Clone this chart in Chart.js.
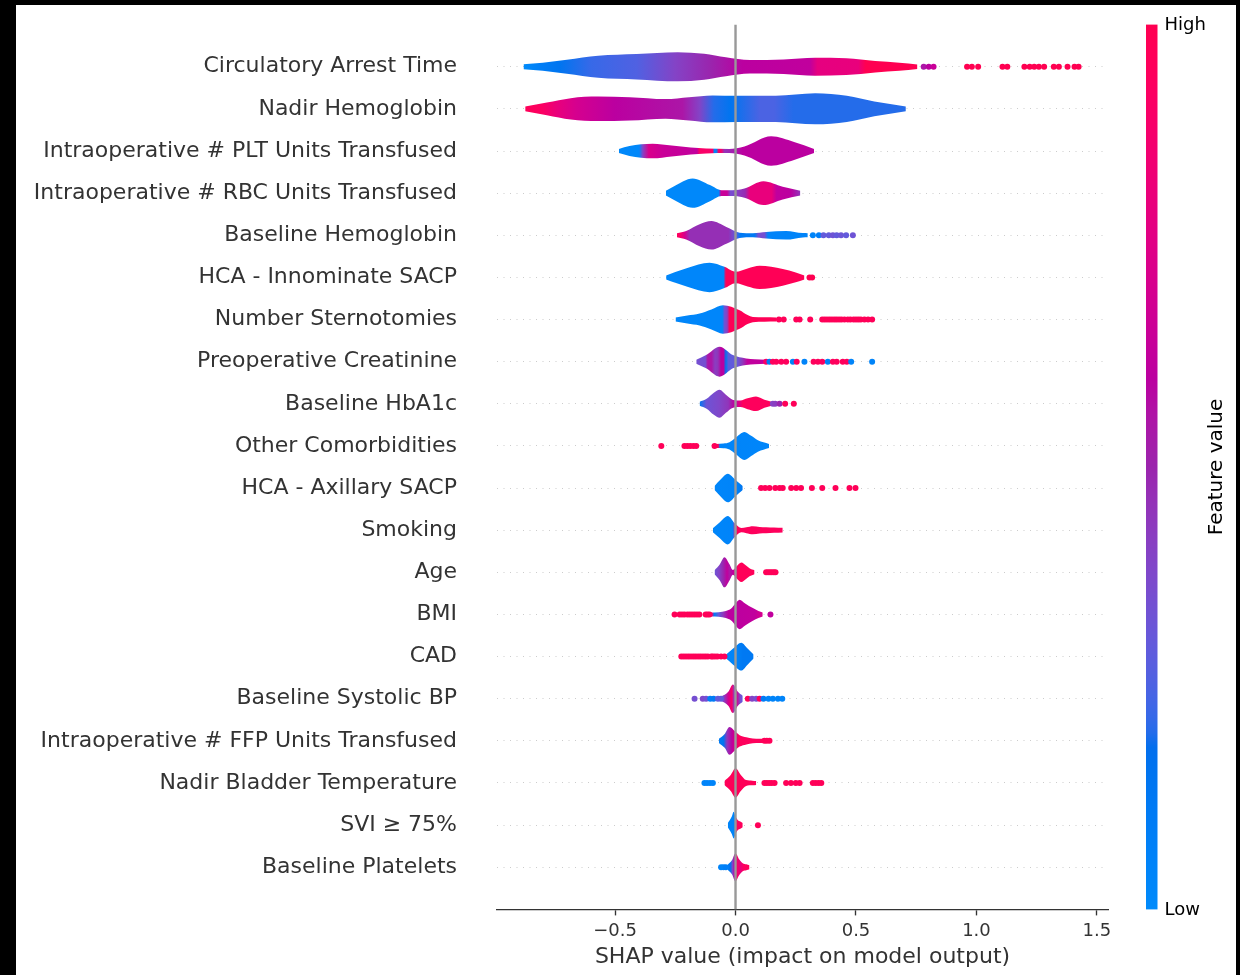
<!DOCTYPE html>
<html lang="en">
<head>
<meta charset="UTF-8">
<title>SHAP violin summary</title>
<script src="https://cdn.jsdelivr.net/npm/chart.js"></script>
<style>
  html, body { margin: 0; padding: 0; background: #000; }
  #frame { position: absolute; left: 16px; top: 5px; width: 1220px; height: 970px; background: #fff; }
</style>
</head>
<body>
<div id="frame"><canvas id="shap"></canvas></div>
<script>
// features, top to bottom
const features = [
  'Circulatory Arrest Time', 'Nadir Hemoglobin', 'Intraoperative # PLT Units Transfused',
  'Intraoperative # RBC Units Transfused', 'Baseline Hemoglobin', 'HCA - Innominate SACP',
  'Number Sternotomies', 'Preoperative Creatinine', 'Baseline HbA1c', 'Other Comorbidities',
  'HCA - Axillary SACP', 'Smoking', 'Age', 'BMI', 'CAD', 'Baseline Systolic BP',
  'Intraoperative # FFP Units Transfused', 'Nadir Bladder Temperature', 'SVI \u2265 75%', 'Baseline Platelets'
];

const xTicks = [-0.5, 0, 0.5, 1.0, 1.5];

// violin outline: SHAP positions and relative density (1 = widest)
const violinX = [
  [-0.88, -0.8, -0.7, -0.57, -0.41, -0.24, -0.13, -0.04, 0.06, 0.2, 0.33, 0.46, 0.58, 0.68, 0.755],
  [-0.873, -0.783, -0.684, -0.57, -0.439, -0.291, -0.193, -0.095, 0.003, 0.167, 0.331, 0.462, 0.576, 0.707],
  [-0.484, -0.44, -0.344, -0.265, -0.186, -0.122, -0.027, 0.037, 0.148, 0.243, 0.326],
  [-0.289, -0.255, -0.178, -0.106, -0.058, -0.011, 0.037, 0.116, 0.196, 0.269],
  [-0.243, -0.205, -0.149, -0.1, -0.038, 0.017, 0.072, 0.127, 0.21, 0.279, 0.3],
  [-0.288, -0.25, -0.2, -0.108, -0.046, 0.0, 0.05, 0.1, 0.196, 0.25, 0.286],
  [-0.249, -0.2, -0.149, -0.1, -0.052, 0.017, 0.05, 0.072, 0.12, 0.169],
  [-0.163, -0.122, -0.066, -0.011, 0.044, 0.08, 0.127],
  [-0.149, -0.12, -0.09, -0.066, -0.04, -0.01, 0.02, 0.05, 0.085, 0.12, 0.15],
  [-0.08, -0.05, -0.025, 0.0, 0.037, 0.065, 0.093, 0.139],
  [-0.087, -0.06, -0.032, 0.0, 0.03],
  [-0.094, -0.065, -0.032, -0.002, 0.024, 0.045, 0.072, 0.1, 0.127, 0.16, 0.196],
  [-0.087, -0.065, -0.046, -0.025, -0.011, 0.005, 0.024, 0.045, 0.058, 0.079],
  [-0.101, -0.07, -0.04, -0.018, 0.0, 0.017, 0.04, 0.072, 0.095, 0.113],
  [-0.039, -0.01, 0.024, 0.05, 0.075],
  [-0.06, -0.03, -0.011, 0.01, 0.03],
  [-0.069, -0.045, -0.025, 0.0, 0.017, 0.045, 0.072, 0.1, 0.141],
  [-0.046, -0.02, 0.0, 0.022, 0.044, 0.07, 0.086],
  [-0.032, -0.015, -0.008, 0.0, 0.01, 0.02, 0.03],
  [-0.033, -0.015, 0.0, 0.015, 0.03, 0.045, 0.058]
];
const violinDensity = [
  [0.16, 0.26, 0.45, 0.71, 0.82, 0.94, 0.84, 0.61, 0.44, 0.47, 0.58, 0.54, 0.37, 0.26, 0.15],
  [0.16, 0.41, 0.69, 0.79, 0.75, 0.63, 0.75, 0.87, 0.84, 0.84, 1.0, 0.84, 0.47, 0.15],
  [0.13, 0.32, 0.47, 0.35, 0.23, 0.16, 0.13, 0.29, 0.95, 0.58, 0.13],
  [0.16, 0.45, 0.95, 0.52, 0.19, 0.19, 0.3, 0.77, 0.41, 0.16],
  [0.13, 0.28, 0.71, 0.92, 0.54, 0.17, 0.13, 0.21, 0.28, 0.14, 0.13],
  [0.13, 0.35, 0.61, 0.95, 0.69, 0.37, 0.58, 0.75, 0.54, 0.32, 0.13],
  [0.13, 0.26, 0.39, 0.65, 0.92, 0.6, 0.29, 0.17, 0.14, 0.13],
  [0.13, 0.43, 0.97, 0.43, 0.21, 0.16, 0.13],
  [0.13, 0.32, 0.71, 0.9, 0.58, 0.25, 0.21, 0.35, 0.47, 0.26, 0.13],
  [0.13, 0.15, 0.23, 0.52, 0.9, 0.65, 0.37, 0.13],
  [0.13, 0.58, 0.92, 0.52, 0.13],
  [0.13, 0.52, 0.92, 0.43, 0.14, 0.19, 0.26, 0.21, 0.19, 0.17, 0.15],
  [0.13, 0.52, 0.97, 0.52, 0.15, 0.39, 0.63, 0.42, 0.26, 0.13],
  [0.13, 0.15, 0.23, 0.39, 0.71, 0.95, 0.71, 0.41, 0.23, 0.13],
  [0.13, 0.52, 0.9, 0.52, 0.13],
  [0.13, 0.45, 0.92, 0.45, 0.2],
  [0.13, 0.45, 0.9, 0.58, 0.37, 0.23, 0.16, 0.14, 0.13],
  [0.13, 0.52, 0.95, 0.52, 0.19, 0.15, 0.13],
  [0.13, 0.58, 0.86, 0.58, 0.32, 0.23, 0.13],
  [0.16, 0.45, 0.9, 0.52, 0.26, 0.19, 0.13]
];

// smoothed feature value (0 = low, 1 = high) along each violin
const colorX = [
  [-0.88, -0.8, -0.73, -0.6, -0.41, -0.25, -0.1, 0.03, 0.31, 0.34, 0.51, 0.54, 0.755],
  [-0.873, -0.8, -0.74, -0.66, -0.5, -0.22, -0.15, -0.09, -0.02, 0.1, 0.16, 0.24, 0.707],
  [-0.484, -0.4, -0.385, -0.36, -0.3, -0.16, -0.15, -0.095, -0.088, -0.08, -0.07, -0.06, -0.045, 0.03, 0.326],
  [-0.289, -0.07, -0.06, -0.035, -0.02, 0.0, 0.04, 0.06, 0.15, 0.17, 0.23, 0.269],
  [-0.243, -0.23, -0.21, -0.19, -0.03, 0.0, 0.02, 0.08, 0.095, 0.12, 0.135, 0.3],
  [-0.288, -0.05, -0.04, 0.286],
  [-0.249, -0.055, -0.045, -0.035, -0.025, 0.169],
  [-0.163, -0.125, -0.115, -0.1, -0.085, -0.073, -0.06, -0.05, -0.04, -0.03, 0.01, 0.03, 0.05, 0.127],
  [-0.149, -0.14, -0.12, -0.07, -0.03, -0.01, 0.01, 0.03, 0.15],
  [-0.08, -0.072, -0.065, 0.139],
  [-0.087, 0.0, 0.03],
  [-0.094, -0.012, -0.004, 0.006, 0.196],
  [-0.087, -0.068, -0.05, -0.035, -0.025, -0.012, 0.0, 0.012, 0.079],
  [-0.101, -0.095, -0.088, -0.07, -0.05, -0.03, 0.08, 0.113],
  [-0.039, 0.0, 0.03, 0.075],
  [-0.06, -0.045, -0.03, -0.015, -0.005, 0.005, 0.02, 0.03],
  [-0.069, -0.05, -0.035, -0.015, 0.015, 0.141],
  [-0.046, 0.086],
  [-0.032, -0.004, 0.002, 0.03],
  [-0.033, -0.022, -0.012, -0.004, 0.004, 0.02, 0.035, 0.058]
];
const colorValue = [
  [0.0, 0.1, 0.15, 0.22, 0.26, 0.4, 0.5, 0.6, 0.62, 0.78, 0.8, 1.0, 1.0],
  [0.97, 0.92, 0.8, 0.7, 0.6, 0.55, 0.4, 0.2, 0.15, 0.25, 0.25, 0.2, 0.2],
  [0.02, 0.02, 0.4, 0.72, 0.65, 0.62, 0.9, 0.9, 0.05, 0.05, 0.9, 0.9, 0.45, 0.6, 0.6],
  [0.02, 0.02, 0.65, 0.65, 0.35, 0.4, 0.48, 0.8, 0.8, 0.62, 0.6, 0.45],
  [0.95, 0.9, 0.7, 0.47, 0.47, 0.3, 0.12, 0.12, 0.35, 0.35, 0.05, 0.05],
  [0.03, 0.03, 0.98, 0.98],
  [0.03, 0.03, 0.35, 0.4, 0.98, 0.98],
  [0.35, 0.35, 0.55, 0.55, 0.42, 0.45, 0.6, 0.6, 0.15, 0.28, 0.32, 0.45, 0.62, 0.62],
  [0.15, 0.2, 0.33, 0.38, 0.45, 0.58, 0.7, 0.95, 0.95],
  [0.95, 0.95, 0.05, 0.03],
  [0.03, 0.05, 0.15],
  [0.03, 0.05, 0.4, 0.95, 0.95],
  [0.33, 0.4, 0.5, 0.62, 0.55, 0.6, 0.78, 0.97, 0.97],
  [0.95, 0.5, 0.1, 0.3, 0.45, 0.6, 0.62, 0.72],
  [0.03, 0.05, 0.12, 0.12],
  [0.4, 0.45, 0.7, 0.9, 0.4, 0.7, 0.35, 0.3],
  [0.1, 0.15, 0.45, 0.6, 0.95, 0.95],
  [0.97, 0.97],
  [0.05, 0.05, 0.95, 0.95],
  [0.1, 0.15, 0.4, 0.6, 0.9, 0.8, 0.95, 0.95]
];

// single outlying points: SHAP value and feature value
const dotX = [
  [0.781, 0.802, 0.822, 0.961, 0.981, 1.007, 1.108, 1.128, 1.199, 1.221, 1.24, 1.259, 1.281, 1.321, 1.342, 1.378, 1.407, 1.424],
  [], [], [],
  [0.321, 0.346, 0.365, 0.387, 0.404, 0.42, 0.438, 0.459, 0.487],
  [0.307, 0.318],
  [0.18, 0.2, 0.252, 0.266, 0.31, 0.36, 0.37, 0.38, 0.39, 0.4, 0.41, 0.42, 0.43, 0.44, 0.452, 0.466, 0.477, 0.49, 0.5, 0.51, 0.52, 0.535, 0.55, 0.567],
  [0.127, 0.141, 0.155, 0.169, 0.19, 0.21, 0.238, 0.254, 0.286, 0.324, 0.342, 0.36, 0.383, 0.404, 0.42, 0.445, 0.462, 0.48, 0.567],
  [0.155, 0.165, 0.183, 0.206, 0.242],
  [-0.308, -0.212, -0.2, -0.188, -0.175, -0.163, -0.087],
  [0.106, 0.123, 0.141, 0.165, 0.183, 0.196, 0.231, 0.252, 0.272, 0.317, 0.36, 0.415, 0.473, 0.498],
  [],
  [0.127, 0.135, 0.143, 0.151, 0.159, 0.166],
  [-0.253, -0.232, -0.222, -0.212, -0.2, -0.19, -0.18, -0.17, -0.16, -0.15, -0.124, -0.116, -0.108, 0.145],
  [-0.225, -0.215, -0.205, -0.195, -0.185, -0.175, -0.165, -0.155, -0.145, -0.135, -0.125, -0.115, -0.101, -0.094, -0.085, -0.075, -0.06, -0.046],
  [-0.17, -0.136, -0.122, -0.105, -0.091, -0.073, -0.06, 0.051, 0.069, 0.086, 0.1, 0.116, 0.137, 0.155, 0.176, 0.194],
  [0.12, 0.13, 0.141],
  [-0.129, -0.118, -0.106, -0.094, 0.12, 0.13, 0.14, 0.15, 0.162, 0.21, 0.23, 0.25, 0.266, 0.321, 0.333, 0.345, 0.356],
  [0.093],
  [-0.06, -0.05, -0.04]
];
const dotValue = [
  [0.55, 0.6, 0.65, 1, 1, 1, 1, 1, 1, 1, 1, 1, 1, 1, 1, 1, 1, 1],
  [], [], [],
  [0.05, 0.08, 0.3, 0.3, 0.33, 0.3, 0.32, 0.3, 0.33],
  [1, 1],
  [0.97, 0.97, 0.97, 0.97, 0.97, 0.97, 0.97, 0.97, 0.97, 0.97, 0.97, 0.97, 0.97, 0.97, 0.97, 0.97, 0.97, 0.97, 0.97, 0.97, 0.97, 0.97, 0.97, 0.97],
  [0.9, 0.1, 0.95, 0.95, 0.95, 0.95, 0.05, 0.95, 0.05, 0.95, 0.95, 0.95, 0.05, 0.95, 0.95, 0.95, 0.95, 0.05, 0.05],
  [0.4, 0.42, 0.5, 0.97, 0.97],
  [0.97, 0.97, 0.97, 0.97, 0.97, 0.97, 0.97],
  [0.97, 0.97, 0.97, 0.97, 0.97, 0.97, 0.97, 0.97, 0.97, 0.97, 0.97, 0.97, 0.97, 0.97],
  [],
  [0.97, 0.97, 0.97, 0.97, 0.97, 0.97],
  [0.97, 0.97, 0.97, 0.97, 0.97, 0.97, 0.97, 0.97, 0.97, 0.97, 0.97, 0.97, 0.97, 0.62],
  [0.97, 0.97, 0.97, 0.97, 0.97, 0.97, 0.97, 0.97, 0.97, 0.97, 0.97, 0.97, 0.97, 0.97, 0.97, 0.97, 0.97, 0.97],
  [0.35, 0.38, 0.35, 0.08, 0.1, 0.3, 0.3, 0.95, 0.4, 0.35, 0.95, 0.1, 0.05, 0.05, 0.05, 0.05],
  [0.97, 0.97, 0.97],
  [0.05, 0.05, 0.05, 0.05, 0.97, 0.97, 0.97, 0.97, 0.97, 0.97, 0.97, 0.97, 0.97, 0.97, 0.97, 0.97, 0.97],
  [0.97],
  [0.05, 0.05, 0.08]
];

// shap red_blue colour map (interpolated in LCH, like shap.plots.colors)
function shapColor(t) {
  t = Math.min(1, Math.max(0, t));
  const L = t < 0.5 ? 54 - 28 * t : 40 + 28 * (t - 0.5);
  const C = 70 + 20 * t;
  const h = 4.6588 + (0.35470565 + 2 * Math.PI - 4.6588) * t;
  const a = C * Math.cos(h), b = C * Math.sin(h);
  const fy = (L + 16) / 116, fx = fy + a / 500, fz = fy - b / 200;
  const finv = v => v > 6 / 29 ? v * v * v : 3 * (6 / 29) * (6 / 29) * (v - 4 / 29);
  const X = 0.95047 * finv(fx), Y = finv(fy), Z = 1.08883 * finv(fz);
  const lin = [
    3.2406 * X - 1.5372 * Y - 0.4986 * Z,
    -0.9689 * X + 1.8758 * Y + 0.0415 * Z,
    0.0557 * X - 0.2040 * Y + 1.0570 * Z
  ];
  const rgb = lin.map(c => {
    c = Math.min(1, Math.max(0, c));
    c = c <= 0.0031308 ? 12.92 * c : 1.055 * Math.pow(c, 1 / 2.4) - 0.055;
    return Math.round(c * 255);
  });
  return 'rgb(' + rgb.join(',') + ')';
}

const MAX_HALF = 0.368;   // half width of the widest violin, in rows
const FONT = '"DejaVu Sans", sans-serif';

function violinFill(chart, i) {
  if (!chart.chartArea) return 'rgba(0,0,0,0)';
  const sx = chart.scales.x;
  const cx = colorX[i], cv = colorValue[i];
  const p0 = sx.getPixelForValue(cx[0]);
  const p1 = sx.getPixelForValue(cx[cx.length - 1]);
  const g = chart.ctx.createLinearGradient(p0, 0, p1, 0);
  cx.forEach((v, k) => {
    const f = (sx.getPixelForValue(v) - p0) / (p1 - p0);
    g.addColorStop(Math.min(1, Math.max(0, f)), shapColor(cv[k]));
  });
  return g;
}

const datasets = [];
datasets.push({
  type: 'line', data: [{x: 0, y: -1}, {x: 0, y: features.length}],
  borderColor: '#999999', borderWidth: 2.4, pointRadius: 0, fill: false, order: 0
});
features.forEach((name, i) => {
  const xs = violinX[i], ds = violinDensity[i];
  const edge = {
    type: 'line', showLine: true, borderColor: 'rgba(0,0,0,0)', borderWidth: 0,
    pointRadius: 0, cubicInterpolationMode: 'monotone', order: 3
  };
  datasets.push(Object.assign({}, edge, {
    data: xs.map((v, k) => ({x: v, y: i - ds[k] * MAX_HALF})),
    fill: '+1',
    backgroundColor: ctx => violinFill(ctx.chart, i)
  }));
  datasets.push(Object.assign({}, edge, {
    data: xs.map((v, k) => ({x: v, y: i + ds[k] * MAX_HALF})),
    fill: false
  }));
  datasets.push({
    type: 'scatter',
    data: dotX[i].map(v => ({x: v, y: i})),
    pointBackgroundColor: dotValue[i].map(shapColor),
    pointBorderWidth: 0, pointRadius: 3, order: 2
  });
});

const colorBar = {
  id: 'colorBar',
  afterDraw(chart) {
    const {ctx, chartArea: a} = chart;
    const left = a.right + 38, w = 11.5;
    const g = ctx.createLinearGradient(0, a.bottom, 0, a.top);
    for (let k = 0; k <= 60; k++) g.addColorStop(k / 60, shapColor(k / 60));
    ctx.save();
    ctx.fillStyle = g;
    ctx.fillRect(left, a.top, w, a.bottom - a.top);
    ctx.fillStyle = '#000';
    ctx.font = '18px ' + FONT;
    ctx.textAlign = 'left';
    ctx.textBaseline = 'middle';
    ctx.fillText('High', left + w + 7, a.top + 1);
    ctx.fillText('Low', left + w + 7, a.bottom + 1);
    ctx.translate(a.right + 109, (a.top + a.bottom) / 2);
    ctx.rotate(-Math.PI / 2);
    ctx.font = '20px ' + FONT;
    ctx.textAlign = 'center';
    ctx.fillText('Feature value', 0, 0);
    ctx.restore();
  }
};

new Chart(document.getElementById('shap'), {
  type: 'scatter',
  data: { datasets },
  plugins: [colorBar],
  options: {
    responsive: true,
    maintainAspectRatio: false,
    animation: false,
    events: [],
    layout: { padding: { left: 0, right: 128, top: 19.6, bottom: 0 } },
    plugins: { legend: { display: false }, tooltip: { enabled: false } },
    scales: {
      x: {
        type: 'linear', min: -0.99, max: 1.546,
        afterBuildTicks: s => { s.ticks = xTicks.map(v => ({ value: v })); },
        afterFit: s => { s.height = 65.6; },
        ticks: {
          color: '#333333', font: { family: FONT, size: 18 }, padding: 5,
          callback: v => v.toFixed(1).replace('-', '\u2212')
        },
        grid: { drawOnChartArea: false, drawTicks: true, tickLength: 6, tickColor: '#333333', tickWidth: 1.35 },
        border: { display: true, color: '#333333', width: 1.35 },
        title: {
          display: true, text: 'SHAP value (impact on model output)', color: '#333333',
          font: { family: FONT, size: 22, lineHeight: 1.2 }, padding: { top: 2, bottom: 4.8 }
        }
      },
      y: {
        type: 'linear', reverse: true, min: -1, max: features.length,
        afterFit: s => { s.width = 481; s.paddingTop = 0; s.paddingBottom = 0; },
        ticks: {
          stepSize: 1, autoSkip: false, padding: 40, color: '#333333',
          font: { family: FONT, size: 22 },
          callback: v => (Number.isInteger(v) && v >= 0 && v < features.length) ? features[v] : ''
        },
        grid: {
          drawTicks: false, lineWidth: 1,
          color: c => (c.tick && c.tick.value >= 0 && c.tick.value < features.length) ? '#cccccc' : 'rgba(0,0,0,0)'
        },
        border: { display: false, dash: [1, 5.5] }
      }
    }
  }
});
</script>
</body>
</html>
